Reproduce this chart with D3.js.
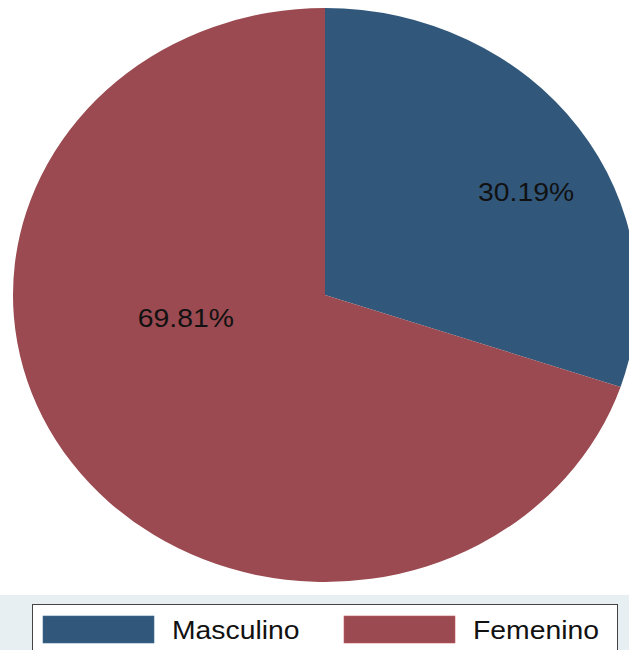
<!DOCTYPE html>
<html>
<head>
<meta charset="utf-8">
<script src="https://cdn.jsdelivr.net/npm/d3@7"></script>
<style>
  html, body { margin: 0; padding: 0; background: #ffffff; }
  svg { display: block; }
</style>
</head>
<body>
<script>
// Distribución por sexo
const categories = ["Masculino", "Femenino"];
const values = [30.19, 69.81];
const colors = ["#31587b", "#9a4a50"];

const W = 629, H = 650;
const cx = 325, cy = 295, rx = 312, ry = 287;
const stretch = 1.09; // horizontal stretch applied to text

const svg = d3.select("body").append("svg")
  .attr("width", W).attr("height", H);

svg.append("rect").attr("width", W).attr("height", H).attr("fill", "#ffffff");

const pie = d3.pie().sort(null).value(d => d.value);
const data = categories.map((c, i) => ({ name: c, value: values[i], color: colors[i] }));
const arcs = pie(data);

const arc = d3.arc().innerRadius(0).outerRadius(ry);

// Pie drawn as a circle and stretched into an ellipse
const g = svg.append("g")
  .attr("transform", `translate(${cx},${cy}) scale(${rx / ry},1)`);

g.selectAll("path").data(arcs).join("path")
  .attr("d", arc)
  .attr("fill", d => d.data.color);

// Percentage labels: anchored on the slice centroid, then nudged
const labelArc = d3.arc().innerRadius(0).outerRadius(ry * 1.2);
const nudges = [[49, -3], [13, -78]];
svg.selectAll("text.pct").data(arcs).join("text")
  .attr("class", "pct")
  .attr("transform", (d, i) => {
    const [x, y] = labelArc.centroid(d);
    return `translate(${cx + x * rx / ry + nudges[i][0]},${cy + y + nudges[i][1]}) scale(${stretch},1)`;
  })
  .attr("text-anchor", "middle")
  .attr("dy", "0.36em")
  .attr("font-family", "Liberation Sans, Arial, sans-serif")
  .attr("font-size", 26)
  .attr("fill", "#111")
  .text(d => d3.format(".2f")(d.data.value) + "%");

// Legend band
svg.append("rect")
  .attr("x", 0).attr("y", 595).attr("width", W).attr("height", H - 595)
  .attr("fill", "#e8eff2");

svg.append("rect")
  .attr("x", 32.5).attr("y", 604.5).attr("width", 585).attr("height", 60)
  .attr("fill", "#ffffff").attr("stroke", "#444").attr("stroke-width", 1);

const legendX = d3.scalePoint().domain(categories).range([43, 344]);

const lg = svg.selectAll("g.leg").data(data).join("g")
  .attr("class", "leg")
  .attr("transform", d => `translate(${legendX(d.name)},616)`);

lg.append("rect")
  .attr("width", 111).attr("height", 27)
  .attr("fill", d => d.color)
  .attr("stroke", d => d3.color(d.color).brighter(0.6))
  .attr("stroke-width", 0.6);

lg.append("text")
  .attr("transform", `translate(129,23) scale(${stretch},1)`)
  .attr("font-family", "Liberation Sans, Arial, sans-serif")
  .attr("font-size", 26)
  .attr("fill", "#111")
  .text(d => d.name);
</script>
</body>
</html>
